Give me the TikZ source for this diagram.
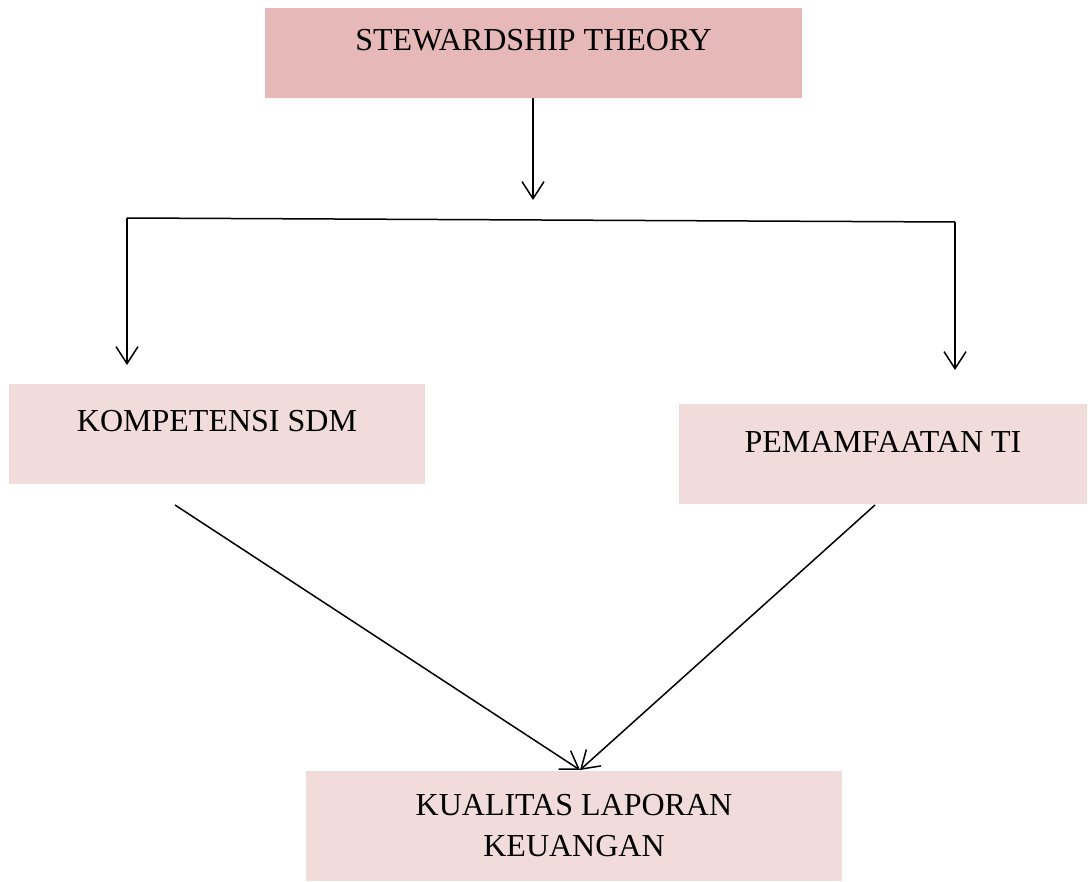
\documentclass[tikz,border=0pt]{standalone}
\usepackage{fontspec}
\setmainfont{Liberation Serif}
\usepackage{tikz}
\usetikzlibrary{arrows.meta,positioning}
\definecolor{rosedark}{HTML}{E6B8B7}
\definecolor{roselight}{HTML}{F2DCDB}
\tikzstyle{mybox} = [fill=roselight, rectangle, inner sep=0pt,
    font=\fontsize{16pt}{20.5pt}\selectfont, align=center]
\tikzstyle{topbox} = [mybox, fill=rosedark]
\tikzstyle{myarrow} = [line width=0.75pt, -{Straight Barb[length=8.5pt,width=11pt]}]
\tikzstyle{myline} = [line width=0.75pt]

\begin{document}
\begin{tikzpicture}[x=0.5pt,y=-0.5pt]
\useasboundingbox (0,0) rectangle (1088,882);

\node [topbox, minimum width=268.5pt, text height=21.25pt, text depth=23.75pt]
    (theory) at (533.5,53) {STEWARDSHIP THEORY};

\node [mybox, minimum width=208pt, text height=23.75pt, text depth=26.25pt]
    (sdm) at (217,434) {KOMPETENSI SDM};

\node [mybox, minimum width=204pt, text height=24.25pt, text depth=25.75pt]
    (ti) at (883,454) {PEMAMFAATAN TI};

\node [mybox, minimum width=268pt, minimum height=55pt]
    (kualitas) at (574,826) {KUALITAS LAPORAN\\KEUANGAN};

% branch
\coordinate (split) at (533,200);
\coordinate (left) at (127,218);
\coordinate (right) at (955,222);
\coordinate (sdmin) at (127,365);
\coordinate (tiin) at (955,370);

\draw [myarrow] (theory.south -| split) -- (split);
\draw [myline] (left) -- (right);
\draw [myarrow] (left) -- (sdmin);
\draw [myarrow] (right) -- (tiin);

% into the result
\coordinate (sdmout) at (175,505);
\coordinate (tiout) at (875,505);
\coordinate (target) at (580,770);

\draw [myarrow] (sdmout) -- (target);
\draw [myarrow] (tiout) -- (target);

\end{tikzpicture}
\end{document}
